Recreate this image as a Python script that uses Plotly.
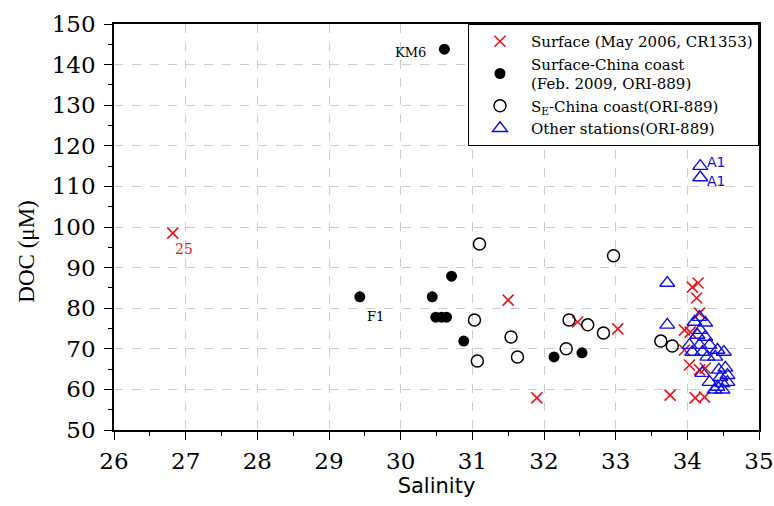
import plotly.graph_objects as go

# Surface (May 2006, CR1353)
sal_cr = [26.82, 31.50, 32.47, 33.03, 31.90, 34.07, 34.15, 34.13, 34.17, 33.96, 34.04,
          33.96, 34.03, 34.17, 34.25, 33.76, 34.11, 34.24]
doc_cr = [98.5, 82.0, 76.6, 74.9, 57.9, 85.2, 86.2, 82.5, 78.8, 74.6, 74.1,
          69.7, 66.0, 64.8, 65.2, 58.6, 57.9, 58.1]

# Surface-China coast (Feb. 2009, ORI-889)
sal_cc = [30.61, 29.43, 30.44, 30.71, 30.49, 30.57, 30.64, 30.88, 32.14, 32.53]
doc_cc = [143.8, 82.8, 82.8, 87.9, 77.8, 77.8, 77.8, 71.9, 68.0, 69.0]

# SE-China coast (ORI-889)
sal_se = [31.10, 32.97, 31.03, 31.54, 31.07, 31.63, 32.35, 32.61, 32.83, 32.31, 33.63, 33.79]
doc_se = [95.8, 92.9, 77.1, 72.9, 67.0, 68.0, 77.1, 75.9, 73.9, 70.0, 71.9, 70.7]

# Other stations (ORI-889)
sal_ot = [34.18, 34.18, 33.72, 33.72, 34.17, 34.10, 34.25, 34.18, 34.14, 34.25, 34.03,
          34.17, 34.31, 34.42, 34.51, 34.07, 34.21, 34.28, 34.39, 34.53, 34.44, 34.21,
          34.56, 34.46, 34.31, 34.49, 34.42, 34.38, 34.49, 34.56]
doc_ot = [115.0, 112.2, 86.2, 75.9, 77.8, 76.6, 76.4, 74.6, 73.4, 72.9, 70.9,
          70.9, 70.9, 69.7, 69.2, 69.2, 69.2, 68.0, 68.0, 65.3, 64.8, 64.0,
          63.5, 63.0, 61.8, 61.5, 60.6, 59.9, 59.9, 61.8]

# Axis tick labels
x_ticks = [26, 27, 28, 29, 30, 31, 32, 33, 34, 35]
y_ticks = [50, 60, 70, 80, 90, 100, 110, 120, 130, 140, 150]

SERIF = "Liberation Serif"
WIDE_SERIF = "DejaVu Serif"
WIDE_SANS = "DejaVu Sans"
RED = "#e8141c"
BLUE = "#1010e0"

fig = go.Figure()
fig.add_trace(go.Scatter(
    x=sal_cr, y=doc_cr, mode="markers", name="Surface (May 2006, CR1353)",
    marker=dict(symbol="x-thin-open", size=11, color=RED, line=dict(color=RED, width=1.6)),
))
fig.add_trace(go.Scatter(
    x=sal_cc, y=doc_cc, mode="markers",
    name="Surface-China coast<br>(Feb. 2009, ORI-889)",
    marker=dict(symbol="circle", size=11, color="black"),
))
fig.add_trace(go.Scatter(
    x=sal_se, y=doc_se, mode="markers", name="S<sub>E</sub>-China coast(ORI-889)",
    marker=dict(symbol="circle-open", size=12, color="black", line=dict(color="black", width=1.5)),
))
fig.add_trace(go.Scatter(
    x=sal_ot, y=doc_ot, mode="markers", name="Other stations(ORI-889)",
    marker=dict(symbol="triangle-up-open", size=13, color=BLUE, line=dict(color=BLUE, width=1.4)),
))

# Station labels
labels = [
    dict(x=sal_cc[0], y=doc_cc[0], text="KM6", xanchor="right", yanchor="middle",
         xshift=-16, yshift=-3, font=dict(family=WIDE_SERIF, size=13, color="black")),
    dict(x=sal_cc[1], y=doc_cc[1], text="F1", xanchor="left", yanchor="top",
         xshift=5, yshift=-10, font=dict(family=WIDE_SERIF, size=13, color="black")),
    dict(x=sal_cr[0], y=doc_cr[0], text="25", xanchor="left", yanchor="top",
         xshift=0, yshift=-6, font=dict(family=WIDE_SERIF, size=14, color=RED)),
    dict(x=sal_ot[0], y=doc_ot[0], text="A1", xanchor="left", yanchor="middle",
         xshift=5, yshift=4, font=dict(family=WIDE_SANS, size=14, color=BLUE)),
    dict(x=sal_ot[1], y=doc_ot[1], text="A1", xanchor="left", yanchor="middle",
         xshift=5, yshift=-4, font=dict(family=WIDE_SANS, size=14, color=BLUE)),
]
for a in labels:
    fig.add_annotation(xref="x", yref="y", showarrow=False, **a)

# Y-axis title, set a little below the centre of the axis
fig.add_annotation(
    text="DOC (μM)", xref="paper", yref="paper", x=-0.136, y=0.44,
    xanchor="center", yanchor="middle", textangle=-90, showarrow=False,
    font=dict(family=SERIF, size=23, color="black"),
)

tick_font = dict(family=WIDE_SERIF, size=23, color="black")

fig.update_layout(
    width=774, height=506,
    margin=dict(l=114, r=15, t=24, b=76),
    plot_bgcolor="white", paper_bgcolor="white",
    font=dict(family=SERIF, color="black"),
    xaxis=dict(
        range=[26, 35], tickmode="array", tickvals=x_ticks,
        ticktext=[str(v) for v in x_ticks], automargin=False,
        ticklabeloverflow="allow",
        showline=True, linecolor="black", linewidth=1.5, mirror=True,
        ticks="outside", ticklen=8, tickwidth=1.2, tickcolor="black",
        showgrid=True, gridcolor="#cccccc", griddash="dash", gridwidth=1,
        zeroline=False, tickfont=tick_font, ticklabelstandoff=2,
        minor=dict(dtick=0.5, tick0=26, ticks="outside", ticklen=4, tickcolor="black", showgrid=False),
        title=dict(text="Salinity", font=dict(family=WIDE_SANS, size=21, color="black"), standoff=4),
    ),
    yaxis=dict(
        range=[50, 150], tickmode="array", tickvals=y_ticks,
        ticktext=[str(v) for v in y_ticks], automargin=False,
        ticklabeloverflow="allow",
        showline=True, linecolor="black", linewidth=1.5, mirror=True,
        ticks="outside", ticklen=8, tickwidth=1.2, tickcolor="black",
        showgrid=True, gridcolor="#cccccc", griddash="dash", gridwidth=1,
        zeroline=False, tickfont=tick_font, ticklabelstandoff=4,
        minor=dict(dtick=5, tick0=50, ticks="outside", ticklen=4, tickcolor="black", showgrid=False),
    ),
    legend=dict(
        x=1, y=1, xanchor="right", yanchor="top",
        bgcolor="white", bordercolor="black", borderwidth=1,
        font=dict(family=WIDE_SERIF, size=15, color="black"),
        tracegroupgap=0, itemwidth=52,
    ),
)

fig.write_html("out.html")
